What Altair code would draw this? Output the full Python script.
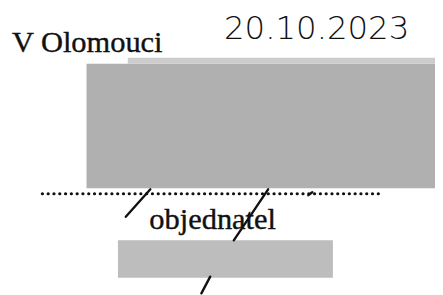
import altair as alt
import pandas as pd

# --- content (page pixel coordinates) ---
texts = ["V Olomouci", "objednatel"]
text_x = [12, 152]
text_y = [50, 230]

date_text = ["20.10.2023"]
date_x = [228]
date_y = [37]

# redaction blocks (x0, x1, y0, y1, grey)
blk_x0 = [88, 130, 120]
blk_x1 = [443, 443, 339]
blk_y0 = [62, 56, 242]
blk_y1 = [189, 62, 280]
blk_col = ["#b0b0b0", "#cccccc", "#bdbdbd"]

# dotted signature line
dot_x0 = [43]
dot_x1 = [389]
dot_y = [194.5]

# pen strokes
stk_x0 = [128, 273, 214, 314]
stk_y0 = [218, 190, 279, 196]
stk_x1 = [153, 238, 205, 318]
stk_y1 = [190, 242, 296, 193]

X = alt.Scale(domain=[8, 443], nice=False, zero=False)
Y = alt.Scale(domain=[8, 295], nice=False, zero=False, reverse=True)
noax = None

blocks = pd.DataFrame({"x0": blk_x0, "x1": blk_x1, "y0": blk_y0, "y1": blk_y1, "c": blk_col})
rects = alt.Chart(blocks).mark_rect().encode(
    x=alt.X("x0:Q", scale=X, axis=noax), x2="x1:Q",
    y=alt.Y("y0:Q", scale=Y, axis=noax), y2="y1:Q",
    color=alt.Color("c:N", scale=None),
)

dots = alt.Chart(pd.DataFrame({"x0": dot_x0, "x1": dot_x1, "y": dot_y})).mark_rule(
    color="#111", strokeWidth=3.2, strokeCap="round", strokeDash=[0.1, 5.8]
).encode(x=alt.X("x0:Q", scale=X, axis=noax), x2="x1:Q", y=alt.Y("y:Q", scale=Y, axis=noax))

strokes = alt.Chart(pd.DataFrame({"x0": stk_x0, "y0": stk_y0, "x1": stk_x1, "y1": stk_y1})).mark_rule(
    color="#111", strokeWidth=2.4, strokeCap="round"
).encode(
    x=alt.X("x0:Q", scale=X, axis=noax), x2="x1:Q",
    y=alt.Y("y0:Q", scale=Y, axis=noax), y2="y1:Q",
)

typed = alt.Chart(pd.DataFrame({"t": texts, "x": text_x, "y": text_y})).mark_text(
    font="Liberation Serif", fontSize=31, align="left", baseline="alphabetic",
    color="#111", stroke="#111", strokeWidth=0.4
).encode(x=alt.X("x:Q", scale=X, axis=noax), y=alt.Y("y:Q", scale=Y, axis=noax), text="t:N")

hand = alt.Chart(pd.DataFrame({"t": date_text, "x": date_x, "y": date_y})).mark_text(
    font="DejaVu Sans", fontSize=33, fontWeight=200, align="left", baseline="alphabetic", color="#111"
).encode(x=alt.X("x:Q", scale=X, axis=noax), y=alt.Y("y:Q", scale=Y, axis=noax), text="t:N")

chart = alt.layer(rects, dots, strokes, typed, hand).properties(
    width=435, height=287, padding=0, autosize="none", background="white"
).configure_view(stroke=None)

chart.save("out.html", embed_options={"renderer": "svg", "actions": False})
